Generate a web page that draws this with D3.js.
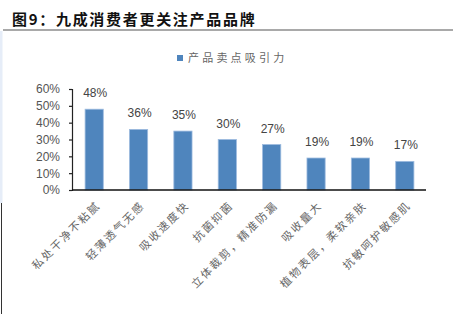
<!DOCTYPE html>
<html lang="zh">
<head>
<meta charset="UTF-8">
<title>图9</title>
<script src="https://cdnjs.cloudflare.com/ajax/libs/d3/7.8.2/d3.min.js"></script>
<style>
    body { margin: 0; background: #fff; }
    svg { display: block; }
    .cjk { font-family: "Noto Sans CJK SC", sans-serif; }
    .num { font-family: "Liberation Sans", Arial, sans-serif; }
</style>
</head>
<body>
<div id="chart"></div>
<script>
    // data
    const categories = ["私处干净不粘腻", "轻薄透气无感", "吸收速度快", "抗菌抑菌",
        "立体裁剪，精准防漏", "吸收量大", "植物表层，柔软亲肤", "抗敏呵护敏感肌"];
    const values = [0.48, 0.36, 0.35, 0.30, 0.27, 0.19, 0.19, 0.17];
    const yTicks = [0, 0.1, 0.2, 0.3, 0.4, 0.5, 0.6];
    const seriesName = "产品卖点吸引力";
    const title = "图9：九成消费者更关注产品品牌";

    const width = 453, height = 314;
    const barColor = "#4f85bd";

    const svg = d3.select("#chart").append("svg")
        .attr("width", width)
        .attr("height", height);

    // title + rule
    svg.append("text")
        .attr("class", "cjk")
        .attr("x", 12)
        .attr("y", 25)
        .attr("font-size", 15)
        .attr("font-weight", "bold")
        .attr("letter-spacing", 1.7)
        .attr("fill", "#111")
        .text(title);

    svg.append("line")
        .attr("x1", 3).attr("x2", width)
        .attr("y1", 30).attr("y2", 30)
        .attr("stroke", "#555").attr("stroke-width", 1.2);

    // left edge bits
    svg.append("rect")
        .attr("x", 0).attr("y", 31).attr("width", 2.5).attr("height", 172)
        .attr("fill", "#e6edf8");
    svg.append("line")
        .attr("x1", 1.5).attr("x2", 1.5).attr("y1", 203).attr("y2", height)
        .attr("stroke", "#333").attr("stroke-width", 1);

    // scales
    const x = d3.scaleBand()
        .domain(categories)
        .range([72, 427])
        .paddingInner(0.59)
        .paddingOuter(0.295);

    const y = d3.scaleLinear()
        .domain([0, 0.6])
        .range([190, 89]);

    // y axis
    const yAxis = svg.append("g")
        .attr("transform", "translate(72,0)")
        .call(d3.axisLeft(y).tickValues(yTicks).tickFormat(d3.format(".0%"))
            .tickSize(3).tickPadding(9));
    yAxis.select(".domain").attr("stroke", "#222").attr("stroke-width", 1.2);
    yAxis.selectAll(".tick line").attr("stroke", "#222").attr("stroke-width", 1.2);
    yAxis.selectAll(".tick text")
        .attr("class", "num")
        .attr("font-size", 12)
        .attr("fill", "#555");

    // bars
    svg.append("g")
        .selectAll("rect")
        .data(values)
        .join("rect")
        .attr("x", (d, i) => x(categories[i]))
        .attr("width", x.bandwidth())
        .attr("y", d => y(d))
        .attr("height", d => y(0) - y(d))
        .attr("fill", barColor)
        .attr("stroke", "#9dbbdf")
        .attr("stroke-width", 0.8);

    // value labels
    svg.append("g")
        .selectAll("text")
        .data(values)
        .join("text")
        .attr("class", "num")
        .attr("x", (d, i) => x(categories[i]) + x.bandwidth() / 2 + 1)
        .attr("y", d => y(d) - 12)
        .attr("text-anchor", "middle")
        .attr("font-size", 12)
        .attr("fill", "#444")
        .text(d => Math.round(d * 100) + "%");

    // x axis line
    svg.append("line")
        .attr("x1", 72).attr("x2", 426)
        .attr("y1", 190).attr("y2", 190)
        .attr("stroke", "#111").attr("stroke-width", 1.6);

    // x labels, rotated
    svg.append("g")
        .selectAll("text")
        .data(categories)
        .join("text")
        .attr("class", "cjk")
        .attr("transform", d => `translate(${x(d) + x.bandwidth() / 2 + 7},206) rotate(-45)`)
        .attr("text-anchor", "end")
        .attr("font-size", 11)
        .attr("letter-spacing", 2)
        .attr("fill", "#666")
        .text(d => d);

    // legend
    svg.append("rect")
        .attr("x", 177).attr("y", 55)
        .attr("width", 6).attr("height", 6)
        .attr("fill", barColor);
    svg.append("text")
        .attr("class", "cjk")
        .attr("x", 188)
        .attr("y", 62)
        .attr("font-size", 11)
        .attr("letter-spacing", 3.2)
        .attr("fill", "#666")
        .text(seriesName);
</script>
</body>
</html>
